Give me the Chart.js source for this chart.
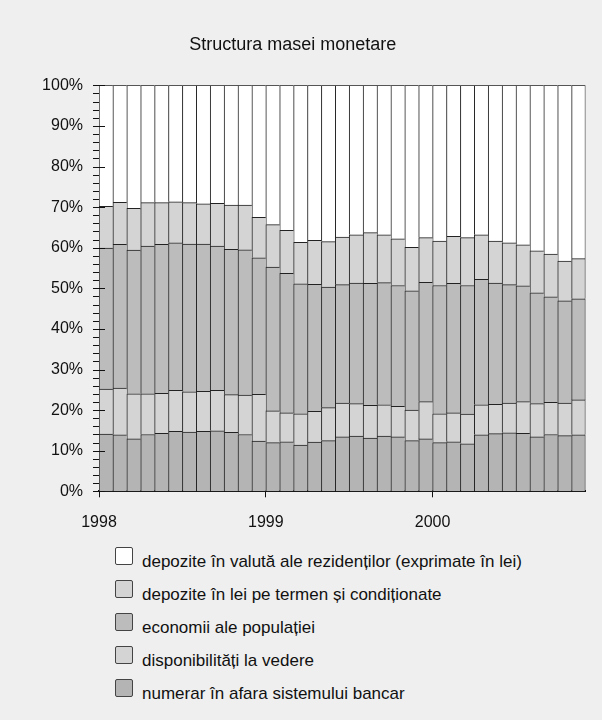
<!DOCTYPE html>
<html>
<head>
<meta charset="utf-8">
<script src="https://cdn.jsdelivr.net/npm/chart.js@4.4.1/dist/chart.umd.min.js"></script>
<style>
    body { margin: 0; background: #efefef; }
    #wrap { position: relative; width: 602px; height: 720px; background: #efefef; }
    #legend { position: absolute; left: 115px; top: 547px; font-family: "Liberation Sans", Arial, sans-serif; font-size: 17px; color: #111; }
    .legend-row { position: relative; height: 33px; }
    .legend-box { position: absolute; left: 0; top: 0; width: 18px; height: 18px; box-sizing: border-box; border: 1px solid #444; border-radius: 2px; }
    .legend-text { position: absolute; left: 27px; top: 5px; line-height: 19px; white-space: nowrap; }
</style>
</head>
<body>
<div id="wrap">
    <canvas id="chart" width="602" height="535"></canvas>
    <div id="legend"></div>
</div>
<script>
// Monthly shares (%), Jan 1998 - Nov 2000
const years = ['1998', '1999', '2000'];
const yearStarts = [0, 12, 24];

const numerar = [14.1, 13.9, 12.9, 14.0, 14.3, 14.8, 14.6, 14.8, 14.9, 14.5, 14.0, 12.4,
    12.0, 12.2, 11.4, 12.1, 12.5, 13.4, 13.6, 13.1, 13.6, 13.4, 12.5, 12.9,
    12.0, 12.2, 11.7, 13.9, 14.2, 14.4, 14.3, 13.4, 14.0, 13.7, 13.9];
const disponibilitati = [11.1, 11.5, 11.1, 10.0, 9.8, 10.1, 9.9, 9.8, 10.0, 9.3, 9.7, 11.5,
    7.8, 7.1, 7.7, 7.6, 8.1, 8.3, 8.0, 8.1, 7.7, 7.5, 7.5, 9.2,
    7.1, 7.1, 7.3, 7.4, 7.2, 7.3, 7.8, 8.2, 7.9, 8.0, 8.6];
const economii = [34.7, 35.4, 35.4, 36.4, 36.7, 36.3, 36.4, 36.3, 35.5, 35.8, 35.8, 33.6,
    35.4, 34.4, 32.0, 31.3, 29.7, 29.2, 29.7, 30.0, 30.1, 29.8, 29.4, 29.4,
    31.6, 31.9, 31.7, 30.9, 29.9, 29.2, 28.5, 27.3, 26.0, 25.2, 24.9];
const depoziteLei = [10.3, 10.4, 10.3, 10.7, 10.3, 10.1, 10.2, 9.9, 10.5, 10.9, 11.0, 10.0,
    10.5, 10.6, 10.2, 10.8, 11.2, 11.7, 11.9, 12.5, 11.8, 11.5, 10.7, 11.0,
    10.9, 11.6, 11.8, 11.0, 10.3, 10.3, 10.1, 10.3, 10.5, 9.8, 9.9];
const depoziteValuta = [29.8, 28.8, 30.3, 28.9, 28.9, 28.7, 28.9, 29.2, 29.1, 29.5, 29.5, 32.5,
    34.3, 35.7, 38.7, 38.2, 38.5, 37.4, 36.8, 36.3, 36.8, 37.8, 39.9, 37.5,
    38.4, 37.2, 37.5, 36.8, 38.4, 38.8, 39.3, 40.8, 41.6, 43.3, 42.7];

const seriesNames = [
    'numerar în afara sistemului bancar',
    'disponibilități la vedere',
    'economii ale populației',
    'depozite în lei pe termen și condiționate',
    'depozite în valută ale rezidenților (exprimate în lei)'
];
const seriesData = [numerar, disponibilitati, economii, depoziteLei, depoziteValuta];
const seriesColors = ['#b4b4b4', '#d4d4d4', '#bcbcbc', '#d4d4d4', '#ffffff'];

const FONT = '"Liberation Sans", Arial, sans-serif';
const monthCount = numerar.length;

// bars sit in the middle of each month slot on a linear axis
function toPoints(values) {
    return values.map((v, i) => ({ x: i + 0.5, y: v }));
}

const datasets = seriesData.map((values, k) => ({
    label: seriesNames[k],
    data: toPoints(values),
    backgroundColor: seriesColors[k],
    borderColor: '#222',
    borderSkipped: false,
    borderWidth: ctx => ({ top: 1, left: 1, bottom: 0, right: ctx.dataIndex === monthCount - 1 ? 1 : 0 }),
    barPercentage: 1,
    categoryPercentage: 1
}));

// small ticks every 2%, longer ones every 10%
const yTicksPlugin = {
    id: 'yTicks',
    afterDraw(chart) {
        const y = chart.scales.y;
        const left = chart.chartArea.left;
        const c = chart.ctx;
        c.save();
        c.strokeStyle = '#111';
        c.lineWidth = 1;
        for (let v = 0; v <= 100; v += 2) {
            const py = Math.round(y.getPixelForValue(v)) + 0.5;
            c.beginPath();
            c.moveTo(left - 6, py);
            c.lineTo(v % 10 === 0 ? left + 6 : left, py);
            c.stroke();
        }
        c.restore();
    }
};

const chart = new Chart(document.getElementById('chart').getContext('2d'), {
    type: 'bar',
    data: { datasets: datasets },
    options: {
        responsive: false,
        animation: false,
        layout: { padding: { left: 0, right: 16.5, top: 0, bottom: 0 } },
        scales: {
            x: {
                type: 'linear',
                stacked: true,
                min: 0,
                max: monthCount,
                offset: false,
                afterBuildTicks: scale => { scale.ticks = yearStarts.map(v => ({ value: v })); },
                afterFit: scale => { scale.height = 43.7; },
                ticks: {
                    autoSkip: false,
                    maxRotation: 0,
                    padding: 16,
                    color: '#111',
                    font: { family: FONT, size: 16 },
                    callback: (v, i) => years[i]
                },
                grid: { offset: false, drawOnChartArea: false, drawTicks: true, tickLength: 6, color: '#111' },
                border: { display: true, color: '#111', width: 2 }
            },
            y: {
                stacked: true,
                min: 0,
                max: 100,
                afterFit: scale => { scale.width = 99; },
                ticks: {
                    stepSize: 10,
                    padding: 16,
                    color: '#111',
                    font: { family: FONT, size: 16 },
                    callback: v => v + '%'
                },
                grid: { display: false, drawTicks: false },
                border: { display: true, color: '#111', width: 1 }
            }
        },
        plugins: {
            legend: { display: false },
            tooltip: { enabled: false },
            title: {
                display: true,
                text: 'Structura masei monetare',
                color: '#111',
                font: { family: FONT, size: 18, weight: 'normal' },
                padding: { top: 34, bottom: 29.7 }
            }
        }
    },
    plugins: [yTicksPlugin]
});

// legend listed top segment first
const legendEl = document.getElementById('legend');
chart.data.datasets.slice().reverse().forEach(ds => {
    const row = document.createElement('div');
    row.className = 'legend-row';
    row.innerHTML = `<div class="legend-box" style="background:${ds.backgroundColor}"></div>` +
        `<span class="legend-text">${ds.label}</span>`;
    legendEl.appendChild(row);
});
</script>
</body>
</html>
